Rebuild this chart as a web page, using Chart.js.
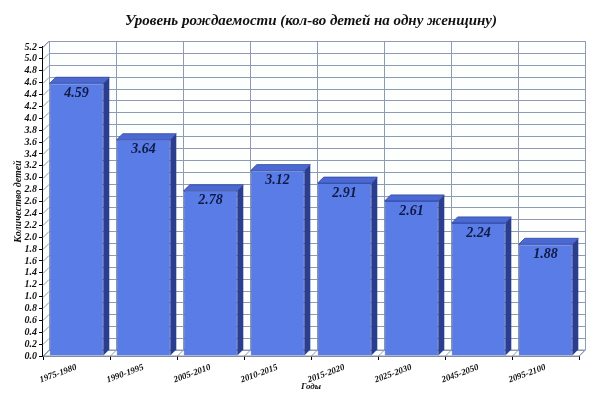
<!DOCTYPE html>
<html>
<head>
<meta charset="utf-8">
<script src="https://cdn.jsdelivr.net/npm/chart.js@4"></script>
<style>
  html, body { margin: 0; padding: 0; background: #fff; }
  #wrap { width: 600px; height: 400px; }
</style>
</head>
<body>
<div id="wrap"><canvas id="chart" width="600" height="400"></canvas></div>
<script>
// ── Data ──
const periods = ['1975-1980', '1990-1995', '2005-2010', '2010-2015', '2015-2020', '2025-2030', '2045-2050', '2095-2100'];
const births  = [4.59, 3.64, 2.78, 3.12, 2.91, 2.61, 2.24, 1.88];
const yMax = 5.2;
const yStep = 0.2;

const DEPTH = 6;
const serif = '"Liberation Serif", "DejaVu Serif", serif';
const gridColor = '#8e9bb2';

// pseudo 3D walls, bar side/top faces and value labels
const pseudo3d = {
  id: 'pseudo3d',
  beforeDatasetsDraw(chart) {
    const { ctx, chartArea: a, scales: { y } } = chart;
    const d = DEPTH;
    ctx.save();
    ctx.lineWidth = 1;
    ctx.strokeStyle = gridColor;
    // back wall
    ctx.fillStyle = '#fdfefe';
    ctx.fillRect(a.left + d, a.top - d, a.right - a.left, a.bottom - a.top);
    // left wall
    ctx.beginPath();
    ctx.moveTo(a.left, a.top); ctx.lineTo(a.left + d, a.top - d);
    ctx.lineTo(a.left + d, a.bottom - d); ctx.lineTo(a.left, a.bottom);
    ctx.closePath();
    ctx.fill();
    // floor
    ctx.beginPath();
    ctx.moveTo(a.left, a.bottom); ctx.lineTo(a.left + d, a.bottom - d);
    ctx.lineTo(a.right + d, a.bottom - d); ctx.lineTo(a.right, a.bottom);
    ctx.closePath();
    ctx.fill();
    ctx.stroke();
    // horizontal grid
    y.ticks.forEach((t) => {
      const py = Math.round(y.getPixelForValue(t.value)) + 0.5;
      ctx.beginPath();
      ctx.moveTo(a.left, py);
      ctx.lineTo(a.left + d, py - d);
      ctx.lineTo(a.right + d, py - d);
      ctx.stroke();
    });
    // vertical grid at category boundaries
    const n = periods.length;
    for (let i = 0; i <= n; i++) {
      const px = Math.round(a.left + (a.right - a.left) * i / n) + 0.5;
      ctx.beginPath();
      ctx.moveTo(px + d, a.top - d);
      ctx.lineTo(px + d, a.bottom - d);
      ctx.lineTo(px, a.bottom);
      ctx.stroke();
    }
    ctx.beginPath();
    ctx.moveTo(a.left, a.top); ctx.lineTo(a.left + d, a.top - d);
    ctx.stroke();
    ctx.restore();
  },
  afterDatasetsDraw(chart) {
    const { ctx } = chart;
    const d = DEPTH;
    const meta = chart.getDatasetMeta(0);
    ctx.save();
    meta.data.forEach((bar, i) => {
      const { x, y, base, width } = bar.getProps(['x', 'y', 'base', 'width'], true);
      const l = x - width / 2, r = x + width / 2;
      // side
      ctx.fillStyle = '#2b3d8e';
      ctx.beginPath();
      ctx.moveTo(r, y); ctx.lineTo(r + d, y - d); ctx.lineTo(r + d, base - d); ctx.lineTo(r, base);
      ctx.closePath(); ctx.fill();
      // top
      ctx.fillStyle = '#4b69d3';
      ctx.beginPath();
      ctx.moveTo(l, y); ctx.lineTo(l + d, y - d); ctx.lineTo(r + d, y - d); ctx.lineTo(r, y);
      ctx.closePath(); ctx.fill();
      ctx.strokeStyle = '#33479e';
      ctx.lineWidth = 0.8;
      ctx.stroke();
      // value
      ctx.fillStyle = '#101a45';
      ctx.font = 'italic bold 14px ' + serif;
      ctx.textAlign = 'center';
      ctx.textBaseline = 'middle';
      ctx.fillText(births[i].toFixed(2), x, y + 10);
    });
    ctx.restore();
  },
};

new Chart(document.getElementById('chart'), {
  type: 'bar',
  data: {
    labels: periods,
    datasets: [{
      data: births,
      backgroundColor: '#5a7ce6',
      borderColor: '#3f5bc4',
      borderWidth: 1,
      barPercentage: 0.8,
      categoryPercentage: 1.0,
    }],
  },
  options: {
    responsive: false,
    animation: false,
    layout: { padding: { left: 0, right: 21, top: 0, bottom: 0 } },
    plugins: {
      legend: { display: false },
      tooltip: { enabled: false },
      title: {
        display: true,
        fullSize: false,
        text: 'Уровень рождаемости (кол-во детей на одну женщину)',
        color: '#111',
        font: { family: serif, size: 15, style: 'italic', weight: 'bold', lineHeight: 1.2 },
        padding: { top: 12, bottom: 17 },
      },
    },
    scales: {
      x: {
        offset: true,
        grid: { display: true, drawOnChartArea: false, drawTicks: true, tickLength: 4, color: '#000', offset: true },
        border: { display: true, color: '#000', width: 1.5 },
        ticks: {
          color: '#111', minRotation: 20, maxRotation: 20, padding: 2, autoSkip: false,
          font: { family: serif, size: 9, style: 'italic', weight: 'bold' },
        },
        title: {
          display: true, text: 'Годы', color: '#111',
          font: { family: serif, size: 9, style: 'italic', weight: 'bold' },
          padding: { top: 0, bottom: 8 },
        },
        afterFit(scale) { scale.height = 44; },
      },
      y: {
        min: 0,
        max: yMax,
        grid: { display: true, drawOnChartArea: false, drawTicks: true, tickLength: 4, color: '#000' },
        border: { display: true, color: '#000', width: 1.5 },
        ticks: {
          stepSize: yStep, color: '#111', padding: 2, autoSkip: false,
          font: { family: serif, size: 10, style: 'italic', weight: 'bold' },
          callback: (v) => Number(v).toFixed(1),
        },
        title: {
          display: true, text: 'Количество детей', color: '#111',
          font: { family: serif, size: 10, style: 'italic', weight: 'bold' },
          padding: { top: 12, bottom: 0 },
        },
        afterFit(scale) { scale.width = 43; },
      },
    },
  },
  plugins: [pseudo3d],
});
</script>
</body>
</html>
